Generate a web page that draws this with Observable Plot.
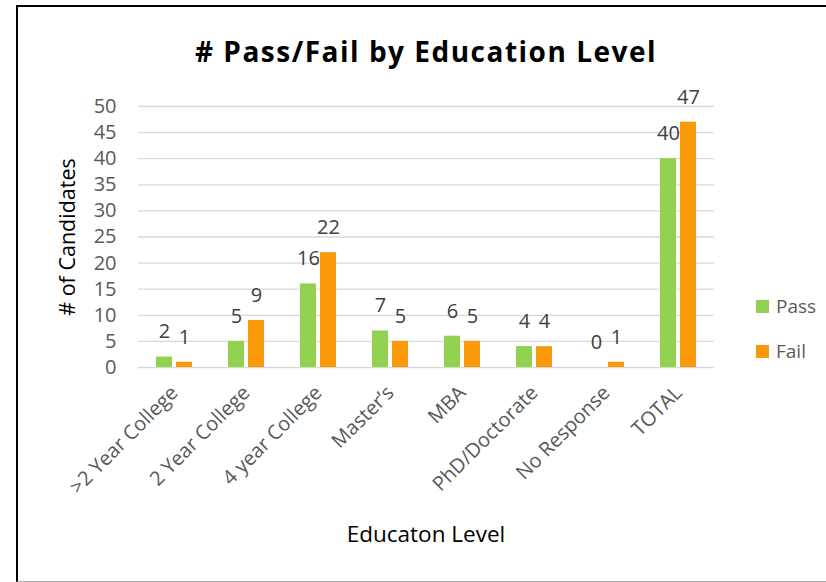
<!DOCTYPE html>
<html><head><meta charset="utf-8">
<script src="https://cdn.jsdelivr.net/npm/d3@7"></script>
<script src="https://cdn.jsdelivr.net/npm/@observablehq/plot@0.6"></script>
<style>
body{margin:0;background:#fff;font-family:"Open Sans",sans-serif}
#wrap{position:relative;width:826px;height:582px;overflow:hidden;background:#fff}
#frame{position:absolute;left:16px;top:5px;width:830px;height:577px;border:2px solid #000;border-bottom:1px solid #aaa;box-sizing:border-box}
#chart{position:absolute;left:0;top:0}
.t{position:absolute;white-space:nowrap}
#title{left:0;width:852px;text-align:center;top:32px;font-size:28px;letter-spacing:1.5px;font-weight:bold;color:#000}
#ylab{left:66px;top:237px;transform:translate(-50%,-50%) rotate(-90deg);font-size:21.5px;color:#000}
#xlab{left:0;width:852px;text-align:center;top:518px;font-size:22.5px;color:#000}
.leg{position:absolute;left:756px;font-size:19px;color:#595959;display:flex;align-items:center}
.sw{width:13px;height:13px;margin-right:7px}
</style></head>
<body>
<div id="wrap">
  <div id="frame"></div>
  <div id="chart"></div>
  <div class="t" id="title"># Pass/Fail by Education Level</div>
  <div class="t" id="ylab"># of Candidates</div>
  <div class="t" id="xlab">Educaton Level</div>
  <div id="legend"></div>
</div>
<script>
const categories = [">2 Year College","2 Year College","4 year College","Master’s","MBA","PhD/Doctorate","No Response","TOTAL"];
const seriesNames = ["Pass","Fail"];
const passValues = [2,5,16,7,6,4,0,40];
const failValues = [1,9,22,5,5,4,1,47];
const colors = ["#92D050","#FA9A0A"];
const yTicks = [0,5,10,15,20,25,30,35,40,45,50];

const data = categories.flatMap((c,i)=>[
  {category:c, series:"Pass", value:passValues[i]},
  {category:c, series:"Fail", value:failValues[i]}
]);

const chart = Plot.plot({
  width:826, height:582,
  marginLeft:137, marginRight:111, marginTop:106, marginBottom:215,
  style:{fontFamily:"'Open Sans', sans-serif", fontSize:"20px", color:"#595959", background:"transparent", overflow:"visible"},
  fx:{domain:categories, padding:0, axis:null},
  x:{domain:seriesNames, paddingInner:0.2, paddingOuter:0.85, axis:null},
  y:{domain:[0,50]},
  color:{domain:seriesNames, range:colors},
  marks:[
    Plot.gridY(yTicks, {stroke:"#d9d9d9", strokeOpacity:1, strokeWidth:1.3}),
    Plot.axisY(yTicks, {tickSize:0, tickPadding:22, label:null, fontSize:20, fill:"#595959"}),
    Plot.barY(data, {fx:"category", x:"series", y:"value", fill:"series"}),
    Plot.text(data, {fx:"category", x:"series", y:"value", text:"value", dy:-25, fill:"#404040", fontSize:20}),
    Plot.text(categories, {fx:d=>d, text:d=>d, frameAnchor:"bottom", rotate:-45, textAnchor:"end", lineAnchor:"middle", dx:0, dy:22, fill:"#595959", fontSize:20})
  ]
});
document.getElementById("chart").appendChild(chart);

const legend = document.getElementById("legend");
seriesNames.forEach((s,i)=>{
  const d = document.createElement("div");
  d.className = "leg";
  d.style.top = (293 + i*45) + "px";
  d.innerHTML = `<span class="sw" style="background:${colors[i]}"></span><span>${s}</span>`;
  legend.appendChild(d);
});
</script>
</body></html>
